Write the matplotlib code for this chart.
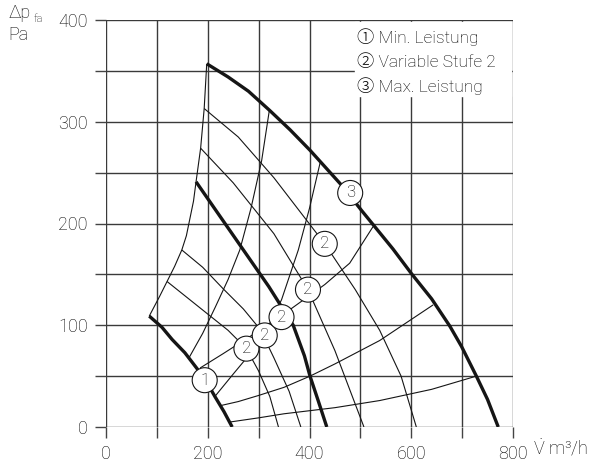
import matplotlib
matplotlib.use("Agg")
import matplotlib.pyplot as plt

# fan curves (flow in m3/h, pressure in Pa)
max_q = [198, 240, 280, 322, 362, 401, 466, 502, 564, 600, 640, 676, 699, 728, 750, 771]
max_p = [357, 344, 330, 311, 292, 272, 236, 213, 175, 151, 126, 99, 79, 50, 27, 0]

mid_q = [177, 220, 270, 320, 368, 390, 401, 417, 434]
mid_p = [241, 210, 174, 138, 100, 70, 50, 26, 0]

min_q = [85, 110, 130, 155, 178, 197, 214, 232, 248]
min_p = [109, 98, 86, 73, 58, 45, 30, 15, 0]

# thin "Variable Stufe 2" curves
var_a_q = [193, 260, 330, 430, 490, 538, 580, 610]
var_a_p = [313, 285, 245, 180, 135, 95, 50, 0]
var_b_q = [186, 250, 330, 397, 450, 507]
var_b_p = [274, 240, 190, 135, 75, 0]
var_c_q = [149, 190, 230, 270, 303, 330, 360, 383]
var_c_p = [174, 157, 136, 116, 96, 68, 35, 0]
var_d_q = [120, 160, 200, 240, 276, 300, 322, 339]
var_d_p = [143, 127, 111, 95, 77, 55, 30, 0]

# left limit and arcs
limit_q = [85, 105, 120, 135, 149, 158, 165, 172, 177, 186, 193, 198]
limit_p = [109, 128, 143, 158, 174, 188, 205, 222, 241, 274, 313, 357]
arc_a_q = [162, 190, 215, 240, 263, 285, 306, 321]
arc_a_p = [67, 92, 118, 145, 174, 215, 262, 311]
arc_b_q = [214, 250, 280, 312, 345, 378, 400, 421]
arc_b_p = [30, 52, 70, 92, 125, 174, 215, 260]

# system curves
sys_a_q = [245, 300, 350, 400, 450, 538, 640, 728]
sys_a_p = [5, 9, 13, 16, 19, 26, 37, 50]
sys_b_q = [225, 260, 300, 350, 401, 450, 538, 643]
sys_b_p = [21, 25, 31, 39, 50, 62, 85, 120]
sys_c_q = [185, 230, 280, 330, 380, 430, 479, 525]
sys_c_p = [58, 72, 88, 104, 122, 140, 161, 197]

labels = [("1", 194, 46), ("2", 276, 77), ("2", 312, 90), ("2", 345, 108),
          ("2", 397, 135), ("2", 430, 180), ("3", 480, 230)]
legend_lines = ["\u2460 Min. Leistung", "\u2461 Variable Stufe 2", "\u2462 Max. Leistung"]
legend_y = [383, 359, 335]

fonts = ["Roboto", "Noto Sans CJK JP", "DejaVu Sans"]
ink = "#151515"
plt.rcParams["mathtext.fontset"] = "custom"
plt.rcParams["mathtext.rm"] = "Roboto:light"

fig = plt.figure(figsize=(6.08, 4.63), dpi=100)
ax = fig.add_axes([106 / 608, 36 / 463, 407 / 608, 407 / 463])
ax.set_xlim(0, 800)
ax.set_ylim(0, 400)
for s in ax.spines.values():
    s.set_visible(False)

ax.set_xticks(range(0, 801, 100))
ax.set_xticklabels(["0", "", "200", "", "400", "", "600", "", "800"])
ax.set_yticks(range(0, 401, 50))
ax.set_yticklabels(["0", "", "100", "", "200", "", "300", "", "400"])
ax.tick_params(length=8, width=1, color="#444", labelsize=13, pad=5, labelcolor="#000")
for lab in ax.get_xticklabels() + ax.get_yticklabels():
    lab.set_fontfamily(fonts)
    lab.set_fontweight("light")
ax.grid(True, color="#3a3a3a", lw=1)
ax.set_axisbelow(True)

thin = dict(color=ink, lw=0.8, solid_capstyle="butt")
thick = dict(color=ink, lw=2.4, solid_capstyle="butt", solid_joinstyle="round")
for q, p in [(var_a_q, var_a_p), (var_b_q, var_b_p), (var_c_q, var_c_p),
             (var_d_q, var_d_p), (limit_q, limit_p), (arc_a_q, arc_a_p),
             (arc_b_q, arc_b_p), (sys_a_q, sys_a_p), (sys_b_q, sys_b_p),
             (sys_c_q, sys_c_p)]:
    ax.plot(q, p, **thin)
for q, p in [(max_q, max_p), (mid_q, mid_p), (min_q, min_p)]:
    ax.plot(q, p, **thick)

for txt, q, p in labels:
    ax.text(q, p, txt, ha="center", va="center", fontsize=12, color="#000",
            family=fonts, fontweight="light",
            bbox=dict(boxstyle="circle,pad=0.3", fc="white", ec=ink, lw=0.8))

# legend box
ax.fill_between([489, 796], 325, 398, color="white", zorder=3)
for line, y in zip(legend_lines, legend_y):
    ax.text(494, y, line, ha="left", va="center", fontsize=12.5,
            color="#000", family=fonts, fontweight="light", zorder=4)

# axis titles
fig.text(8 / 608, 1 - 18 / 463, "\u0394p", fontsize=13, color="#000",
         family=fonts, fontweight="light", va="baseline")
fig.text(34 / 608, 1 - 22 / 463, "fa", fontsize=8, color="#000",
         family=fonts, fontweight="light", va="baseline")
fig.text(8 / 608, 1 - 40 / 463, "Pa", fontsize=13, color="#000",
         family=fonts, fontweight="light", va="baseline")
fig.text(533 / 608, 1 - 455 / 463, r"$\dot{\mathrm{V}}$ m" + "\u00b3/h",
         fontsize=13, color="#000", family=fonts, fontweight="light", va="baseline")

fig.savefig("out.png", dpi=100)
